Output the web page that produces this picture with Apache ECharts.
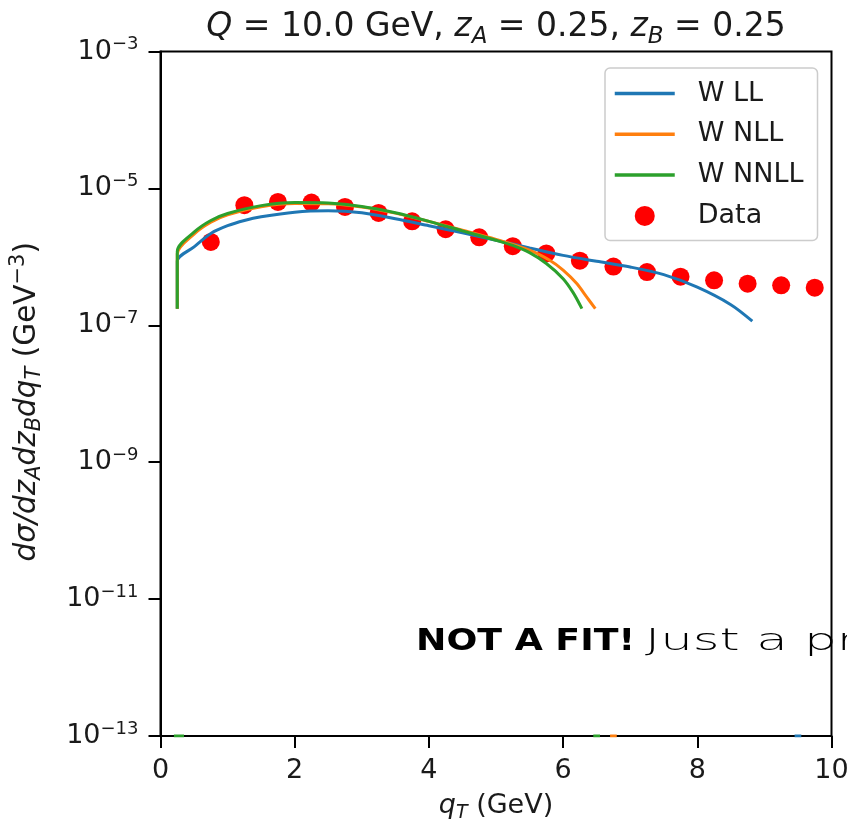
<!DOCTYPE html>
<html><head><meta charset="utf-8">
<script src="https://cdn.jsdelivr.net/npm/echarts@6/dist/echarts.min.js"></script>
<style>html,body{margin:0;padding:0;background:#fff}#c{width:847px;height:823px}</style>
</head><body><div id="c"></div>
<script>
// ---------- data ----------
const xTicks = [0, 2, 4, 6, 8, 10];
const yMin = 1e-13, yMax = 1e-3;
const seriesNames = ['W LL', 'W NLL', 'W NNLL', 'Data'];

const llX = [0.25, 0.25, 0.5, 0.75, 1.0, 1.25, 1.5, 2.0, 2.5, 3.0, 3.5, 4.0, 4.5, 5.0, 5.5, 6.0, 6.5, 7.0, 7.5, 8.0, 8.5, 8.82];
const llY = [1.75e-7, 8.6e-7, 1.4e-6, 2.2e-6, 2.85e-6, 3.4e-6, 3.85e-6, 4.5e-6, 4.7e-6, 4.4e-6, 3.6e-6, 2.85e-6, 2.25e-6, 1.75e-6, 1.35e-6, 1.05e-6, 8.6e-7, 7.1e-7, 5.5e-7, 3.6e-7, 2.0e-7, 1.15e-7];

const nllX = [0.25, 0.25, 0.5, 0.75, 1.0, 1.5, 2.0, 2.5, 3.0, 3.5, 4.0, 4.5, 5.0, 5.5, 5.8, 6.0, 6.2, 6.35, 6.48];
const nllY = [1.75e-7, 1.1e-6, 2.15e-6, 3.2e-6, 4.1e-6, 5.4e-6, 6.0e-6, 5.95e-6, 5.35e-6, 4.35e-6, 3.3e-6, 2.45e-6, 1.8e-6, 1.25e-6, 8.9e-7, 6.4e-7, 4.1e-7, 2.6e-7, 1.75e-7];

const nnllX = [0.25, 0.25, 0.5, 0.75, 1.0, 1.5, 2.0, 2.5, 3.0, 3.5, 4.0, 4.5, 5.0, 5.25, 5.5, 5.75, 6.0, 6.15, 6.28];
const nnllY = [1.75e-7, 1.2e-6, 2.3e-6, 3.4e-6, 4.3e-6, 5.6e-6, 6.2e-6, 6.1e-6, 5.45e-6, 4.4e-6, 3.3e-6, 2.4e-6, 1.75e-6, 1.47e-6, 1.15e-6, 8.0e-7, 4.8e-7, 3.0e-7, 1.75e-7];

// short stretches where each curve sits on the lower limit of the axis
const llFloor = [[9.45, 9.55]];
const nllFloor = [[6.7, 6.8]];
const nnllFloor = [[0.2, 0.35], [6.45, 6.55]];

const dataX = [0.75, 1.25, 1.75, 2.25, 2.75, 3.25, 3.75, 4.25, 4.75, 5.25, 5.75, 6.25, 6.75, 7.25, 7.75, 8.25, 8.75, 9.25, 9.75];
const dataY = [1.65e-6, 5.68e-6, 6.34e-6, 6.22e-6, 5.36e-6, 4.38e-6, 3.31e-6, 2.53e-6, 1.93e-6, 1.43e-6, 1.12e-6, 8.8e-7, 7.2e-7, 6.0e-7, 5.14e-7, 4.54e-7, 4.06e-7, 3.84e-7, 3.55e-7];

const colors = ['#1f77b4', '#ff7f0e', '#2ca02c', '#ff0000'];

// ---------- helpers ----------
function curveData(xs, ys) { return xs.map((x, i) => [x, ys[i]]); }
function floorData(floors) {
  const d = [];
  floors.forEach(f => { d.push([f[0], yMin], [f[1], yMin], [f[1], null]); });
  return d;
}
const FONT = 'DejaVu Sans';
const TXT = '#1a1a1a';

const chart = echarts.init(document.getElementById('c'), null, {renderer: 'canvas'});

function lineSeries(name, data, color, smooth) {
  return {
    name, type: 'line', data,
    symbol: 'none', smooth: smooth, connectNulls: false, clip: true,
    lineStyle: {color, width: 3}, itemStyle: {color},
    emphasis: {disabled: true}
  };
}

chart.setOption({
  animation: false,
  backgroundColor: '#fff',
  color: colors,
  grid: {left: 160.5, right: 15.5, top: 51.5, bottom: 87, show: true, borderColor: '#000', borderWidth: 2,
         containLabel: false, outerBoundsMode: 'none'},
  xAxis: {
    type: 'value', min: xTicks[0], max: xTicks[xTicks.length - 1], interval: 2,
    axisLine: {show: true, onZero: false, lineStyle: {color: '#000', width: 2}},
    axisTick: {show: true, length: 12, lineStyle: {color: '#000', width: 2}},
    splitLine: {show: false},
    axisLabel: {margin: 21, color: TXT, fontFamily: FONT, fontSize: 27},
    name: '{i|q}{sub|T}{n| (GeV)}',
    nameLocation: 'middle', nameGap: 53,
    nameTextStyle: {
      rich: {
        i: {fontFamily: FONT, fontStyle: 'italic', fontSize: 27, lineHeight: 34, color: TXT},
        sub: {fontFamily: FONT, fontStyle: 'italic', fontSize: 19, lineHeight: 19, verticalAlign: 'bottom', color: TXT},
        n: {fontFamily: FONT, fontSize: 27, lineHeight: 34, color: TXT}
      }
    }
  },
  yAxis: {
    type: 'log', logBase: 10, min: yMin, max: yMax, interval: 2,
    axisLine: {show: true, lineStyle: {color: '#000', width: 2}},
    axisTick: {show: true, length: 12, lineStyle: {color: '#000', width: 2}},
    minorTick: {show: false},
    splitLine: {show: false},
    axisLabel: {
      margin: 22,
      formatter: function (v) {
        const e = Math.round(Math.log10(v));
        return '{b|10}{s|' + (e < 0 ? '\u2212' : '') + Math.abs(e) + '}';
      },
      rich: {
        b: {fontFamily: FONT, fontSize: 27, lineHeight: 32, color: TXT},
        s: {fontFamily: FONT, fontSize: 18, lineHeight: 18, verticalAlign: 'top', color: TXT}
      }
    },
    name: '{i|d\u03c3/dz}{sub|A}{i|dz}{sub|B}{i|dq}{sub|T}{n| (GeV}{sup|\u22123}{n|)}',
    nameLocation: 'middle', nameGap: 115, nameRotate: 90,
    nameTextStyle: {
      padding: [0, 16, 0, 0],
      rich: {
        i: {fontFamily: FONT, fontStyle: 'italic', fontSize: 29.5, lineHeight: 37, color: TXT},
        sub: {fontFamily: FONT, fontStyle: 'italic', fontSize: 21, lineHeight: 21, verticalAlign: 'bottom', color: TXT},
        sup: {fontFamily: FONT, fontSize: 21, lineHeight: 21, verticalAlign: 'top', color: TXT},
        n: {fontFamily: FONT, fontSize: 29.5, lineHeight: 37, color: TXT}
      }
    }
  },
  legend: {
    orient: 'vertical', left: 605, top: 68,
    padding: [12, 14, 11, 8], itemGap: 13.8, itemWidth: 60, itemHeight: 20,
    backgroundColor: 'rgba(255,255,255,0.8)', borderColor: '#cccccc', borderWidth: 1.5, borderRadius: 5,
    lineStyle: {width: 3.5},
    data: [
      {name: 'W LL', itemStyle: {opacity: 0}},
      {name: 'W NLL', itemStyle: {opacity: 0}},
      {name: 'W NNLL', itemStyle: {opacity: 0}},
      {name: 'Data', icon: 'circle'}
    ],
    formatter: name => '{t|' + name + '}',
    textStyle: {
      rich: {t: {fontFamily: FONT, fontSize: 27, lineHeight: 30, color: TXT, padding: [0, 0, 0, 18]}}
    },
    selectedMode: false
  },
  series: [
    lineSeries(seriesNames[0], curveData(llX, llY), colors[0], 0.3),
    lineSeries(seriesNames[1], curveData(nllX, nllY), colors[1], 0.3),
    lineSeries(seriesNames[2], curveData(nnllX, nnllY), colors[2], 0.3),
    {
      name: seriesNames[3], type: 'scatter', symbol: 'circle', symbolSize: 18,
      data: dataX.map((x, i) => [x, dataY[i]]),
      itemStyle: {color: colors[3], opacity: 1}, emphasis: {disabled: true}
    },
    // the same three curves where they touch the axis floor (no legend entry of their own)
    lineSeries(seriesNames[0], floorData(llFloor), colors[0], false),
    lineSeries(seriesNames[1], floorData(nllFloor), colors[1], false),
    lineSeries(seriesNames[2], floorData(nnllFloor), colors[2], false)
  ],
  graphic: [
    {
      type: 'text', x: 496, y: 27, z: 100,
      style: {
        text: '{i|Q}{n| = 10.0 GeV, }{i|z}{sub|A}{n| = 0.25, }{i|z}{sub|B}{n| = 0.25}',
        align: 'center', verticalAlign: 'middle', textAlign: 'center', textVerticalAlign: 'middle',
        rich: {
          i: {fontFamily: FONT, fontStyle: 'italic', fontSize: 33, lineHeight: 44, fill: TXT, color: TXT},
          sub: {fontFamily: FONT, fontStyle: 'italic', fontSize: 23, lineHeight: 23, verticalAlign: 'bottom', fill: TXT, color: TXT},
          n: {fontFamily: FONT, fontSize: 33, lineHeight: 44, fill: TXT, color: TXT}
        }
      }
    },
    {
      type: 'text', x: 416, y: 642, scaleX: 1.21, z: 100,
      style: {
        text: 'NOT A FIT!', font: 'bold 30px "DejaVu Sans"', fill: '#000',
        align: 'left', verticalAlign: 'middle', textAlign: 'left', textVerticalAlign: 'middle'
      }
    },
    {
      type: 'text', x: 645, y: 642, scaleX: 1.66, z: 100,
      style: {
        text: 'Just a preview', font: '200 31px "DejaVu Sans"', fill: '#000',
        align: 'left', verticalAlign: 'middle', textAlign: 'left', textVerticalAlign: 'middle'
      }
    }
  ]
});
</script>
</body></html>
